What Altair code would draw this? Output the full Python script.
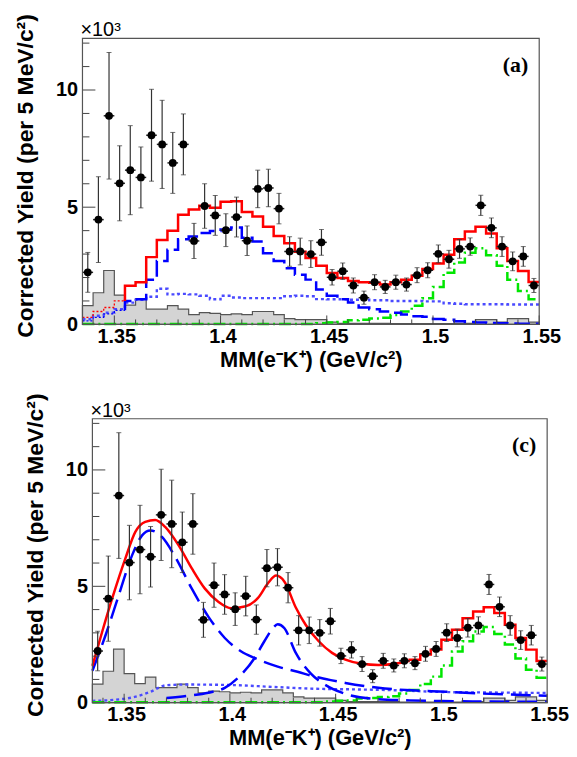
import altair as alt
import pandas as pd

# ---------------- binning (5 MeV bins) ----------------
N_BINS = 43
BIN_START = 1.335
BIN_WIDTH = 0.005
edges = [round(BIN_START + BIN_WIDTH * i, 4) for i in range(N_BINS + 1)]
centers = [round(BIN_START + BIN_WIDTH * (i + 0.5), 4) for i in range(N_BINS)]

# ---------------- data points (x10^3) ----------------
yield_vals = [2.22, 4.47, 8.9, 6.02, 6.58, 6.27, 8.07, 7.68, 6.89, 7.68,
              3.56, 5.05, 4.65, 4.02, 4.58, 3.57, 5.78, 5.82, 4.94, 3.11,
              3.11, 3.0, 3.5, 2.01, 2.27, 1.66, 1.14, 1.8, 1.6, 1.8,
              1.7, 2.1, 2.31, 3.01, 2.78, 3.22, 3.32, 5.08, 4.12, 3.32,
              2.69, 2.9, 1.66]
yield_errs = [0.85, 1.83, 2.7, 1.6, 1.9, 1.3, 1.96, 1.88, 1.3, 1.3,
              0.75, 0.95, 0.85, 0.7, 0.85, 0.63, 0.8, 0.8, 0.65, 0.63,
              0.57, 0.57, 0.55, 0.33, 0.35, 0.32, 0.28, 0.32, 0.28, 0.3,
              0.28, 0.32, 0.32, 0.38, 0.38, 0.4, 0.37, 0.43, 0.42, 0.42,
              0.4, 0.42, 0.3]

# grey hatched background histogram
grey_bkg = [0.8, 1.35, 2.3, 1.25, 0.82, 1.1, 0.65, 0.65, 0.8, 0.65,
            0.42, 0.5, 0.47, 0.42, 0.45, 0.42, 0.55, 0.55, 0.42, 0.25,
            0.2, 0.2, 0.2, 0.1, 0.05, 0.05, 0.05, 0.05, 0.05, 0.03,
            0.03, 0.03, 0.03, 0.03, 0.03, 0.05, 0.05, 0.2, 0.2, 0.1,
            0.25, 0.25, 0.1]

# ---------------- panel (a) fit histograms ----------------
red_a_low = [0.3, 0.55, 0.72, 1.0]                      # bins 0-3
red_a = [1.65, 1.8, 2.87, 3.6, 4.0, 4.68, 4.9, 5.06, 4.98, 5.23,
         5.25, 4.8, 4.6, 4.17, 3.77, 3.46, 3.1, 2.83, 2.5, 2.19,
         1.98, 1.85, 1.8, 1.78, 1.7, 1.8, 1.9, 2.08, 2.36, 2.6,
         2.97, 3.63, 3.96, 4.17, 3.88, 3.25, 2.7, 2.28, 1.81]   # bins 4-42
blue_a_low = [0.15, 0.3, 0.45, 0.6]                     # bins 0-3
blue_a = [1.0, 1.07, 1.9, 2.7, 3.18, 3.63, 3.75, 3.9, 3.98, 4.05,
          4.13, 3.7, 3.54, 3.04, 2.7, 2.4, 2.12, 1.91, 1.49, 1.22,
          1.07, 0.93, 0.72, 0.65, 0.55, 0.5, 0.42, 0.35, 0.33, 0.23,
          0.2, 0.13, 0.1, 0.08, 0.06, 0.05, 0.04, 0.03, 0.03]   # bins 4-42
dotted_a = [0.22, 0.37, 0.5, 0.65, 0.93, 1.05, 1.18, 1.52, 1.28, 1.3,
            1.28, 1.22, 1.07, 1.22, 1.15, 1.12, 1.12, 1.12, 1.12, 1.2,
            1.22, 1.2, 1.08, 1.07, 1.07, 1.05, 1.05, 1.03, 1.03, 1.0,
            1.0, 1.0, 0.98, 0.98, 0.9, 0.88, 0.86, 0.86, 0.86, 0.86,
            0.85, 0.85, 0.85]
green_hist = [0.02, 0.02, 0.02, 0.02, 0.02, 0.02, 0.02, 0.02, 0.02, 0.02,
              0.02, 0.02, 0.02, 0.02, 0.02, 0.02, 0.02, 0.02, 0.02, 0.02,
              0.02, 0.02, 0.05, 0.08, 0.1, 0.18, 0.2, 0.25, 0.28, 0.4,
              0.55, 0.8, 1.12, 1.6, 2.2, 2.64, 3.06, 3.25, 2.95, 2.5,
              1.9, 1.42, 1.07]

# ---------------- panel (c) fit curves ----------------
red_c_x = [1.335, 1.3397, 1.3444, 1.3506, 1.3553, 1.36, 1.3647, 1.3694, 1.3757,
           1.382, 1.3882, 1.3945, 1.4007, 1.407, 1.4132, 1.418, 1.4219, 1.4258,
           1.4311, 1.4358, 1.442, 1.4483, 1.4546, 1.4624, 1.4702, 1.478, 1.485]
red_c_y = [1.58, 3.07, 4.49, 6.2, 7.34, 7.77, 7.85, 7.55, 6.77,
           5.77, 4.9, 4.34, 4.06, 4.13, 4.49, 5.13, 5.46, 5.2,
           4.1, 3.35, 2.64, 2.14, 1.85, 1.67, 1.62, 1.67, 1.8]
red_c_step = [1.85, 2.07, 2.28, 2.7, 3.13, 3.63, 3.92, 4.1, 3.85, 3.35,
              2.78, 2.28, 1.79]                           # bins 30-42
broad_c_x = [1.335, 1.3413, 1.3475, 1.3538, 1.3585, 1.3624, 1.3679, 1.3741, 1.382,
             1.3898, 1.3976, 1.4054, 1.4117, 1.4226, 1.432, 1.4389, 1.4477, 1.4546,
             1.4702, 1.486, 1.502, 1.517, 1.533, 1.55]
broad_c_y = [1.37, 2.92, 4.63, 6.34, 7.19, 7.4, 7.12, 6.27, 4.9,
             3.7, 2.78, 2.2, 1.92, 1.55, 1.33, 1.15, 0.97, 0.85,
             0.64, 0.53, 0.47, 0.4, 0.35, 0.3]
narrow_c_x = [1.37, 1.38, 1.3898, 1.3976, 1.4054, 1.4117, 1.4163, 1.4203, 1.4226,
              1.4258, 1.4311, 1.4383, 1.4445, 1.4546, 1.4702, 1.485, 1.5, 1.52, 1.55]
narrow_c_y = [0.2, 0.3, 0.43, 0.64, 1.21, 1.92, 2.64, 3.2, 3.37,
              3.2, 2.15, 1.25, 0.8, 0.38, 0.15, 0.1, 0.07, 0.05, 0.04]
dot_c_x = [1.335, 1.345, 1.355, 1.362, 1.37, 1.38, 1.40, 1.42, 1.44, 1.46,
           1.48, 1.50, 1.52, 1.55]
dot_c_y = [0.08, 0.12, 0.25, 0.45, 0.75, 0.78, 0.76, 0.68, 0.6, 0.57,
           0.53, 0.46, 0.44, 0.42]

# ---------------- axis ticks ----------------
x_major = [1.35, 1.4, 1.45, 1.5, 1.55]
x_minor = [1.34, 1.36, 1.37, 1.38, 1.39, 1.41, 1.42, 1.43, 1.44, 1.46, 1.47,
           1.48, 1.49, 1.51, 1.52, 1.53, 1.54]
y_major = [0, 5, 10]
y_minor = [1, 2, 3, 4, 6, 7, 8, 9, 11, 12]

X_TITLE = "MM(e\u207bK\u207a) (GeV/c\u00b2)"
Y_TITLE = "Corrected Yield (per 5 MeV/c\u00b2)"

RED = "#ff0000"
BLUE = "#0000ff"
LBLUE = "#4a4aff"
GREEN = "#00e600"
FRAME = "#555555"


def step_df(start_bin, values, lead=None):
    xs = [edges[start_bin + k] for k in range(len(values))] + [edges[start_bin + len(values)]]
    ys = list(values) + [values[-1]]
    if lead is not None:
        xs = [edges[start_bin]] + xs
        ys = [lead] + ys
    return pd.DataFrame({"x": xs, "y": ys, "o": list(range(len(xs)))})


def build_panel(tag, x0, w, H, kind, spacer=None):
    W = x0 + w
    XS = alt.Scale(domain=[1.335, 1.55], range=[x0, W], nice=False, zero=False)
    YS = alt.Scale(domain=[0, 12.2], nice=False, zero=False)
    xax = alt.Axis(values=x_major, format=".3~f", title=X_TITLE, ticks=False,
                   domain=False, grid=False, labelFlush=False, labelPadding=2,
                   titlePadding=3, labelOffset=2, titleX=x0 + w / 2)
    yax = alt.Axis(values=y_major, format="d", title=Y_TITLE, ticks=False,
                   domain=False, grid=False, labelPadding=5, titlePadding=18,
                   offset=-x0, titleY=H / 2 - 6)

    def xe(f):
        return alt.X(f, type="quantitative", scale=XS, axis=xax)

    def ye(f):
        return alt.Y(f, type="quantitative", scale=YS, axis=yax)

    def step_line(vals, start, color, width=2.5, dash=None, lead=None):
        kw = dict(interpolate="step-after", color=color, strokeWidth=width)
        if dash is not None:
            kw["strokeDash"] = dash
        return alt.Chart(step_df(start, vals, lead)).mark_line(**kw).encode(
            x=xe("x"), y=ye("y"), order="o:Q")

    def smooth_line(xs, ys, color, width=2.5, dash=None):
        kw = dict(interpolate="monotone", color=color, strokeWidth=width)
        if dash is not None:
            kw["strokeDash"] = dash
        return alt.Chart(pd.DataFrame({"x": xs, "y": ys})).mark_line(**kw).encode(x=xe("x"), y=ye("y"))

    layers = []
    # grey background
    layers.append(alt.Chart(step_df(0, grey_bkg)).mark_area(
        interpolate="step-after", color="#d4d4d4", stroke=FRAME, strokeWidth=1.2
    ).encode(x=xe("x"), y=ye("y")))

    if kind == "a":
        layers.append(step_line(dotted_a, 0, LBLUE, 2.4, [3, 3]))
        layers.append(step_line(green_hist, 0, GREEN, 2.5, [12, 4, 2, 4]))
        layers.append(step_line(blue_a_low, 0, BLUE, 1.3, [2, 2]))
        layers.append(step_line(blue_a, 4, BLUE, 2.5, [16, 6], lead=blue_a_low[-1]))
        layers.append(step_line(red_a_low, 0, RED, 1.3, [2, 2]))
        layers.append(step_line(red_a, 4, RED, 2.5, lead=red_a_low[-1]))
    else:
        layers.append(smooth_line(dot_c_x, dot_c_y, LBLUE, 2.4, [3, 3]))
        layers.append(step_line(green_hist, 0, GREEN, 2.5, [12, 4, 2, 4]))
        layers.append(smooth_line(broad_c_x, broad_c_y, BLUE, 2.5, [20, 8]))
        layers.append(smooth_line(narrow_c_x, narrow_c_y, BLUE, 2.5, [20, 8]))
        layers.append(smooth_line(red_c_x, red_c_y, RED, 2.5))
        layers.append(step_line(red_c_step, 30, RED, 2.5, lead=red_c_y[-1]))

    pts = pd.DataFrame({
        "x": centers,
        "y": yield_vals,
        "lo": [v - e for v, e in zip(yield_vals, yield_errs)],
        "hi": [v + e for v, e in zip(yield_vals, yield_errs)],
        "xl": [c - BIN_WIDTH / 2 for c in centers],
        "xh": [c + BIN_WIDTH / 2 for c in centers],
    })
    base = alt.Chart(pts)
    layers.append(base.mark_rule(color="#333333", strokeWidth=1.2).encode(
        x=xe("x"), y=ye("lo"), y2="hi"))
    layers.append(base.mark_tick(color="#333333", orient="horizontal", size=5, thickness=1).encode(
        x=xe("x"), y=ye("hi")))
    layers.append(base.mark_tick(color="#333333", orient="horizontal", size=5, thickness=1).encode(
        x=xe("x"), y=ye("lo")))
    layers.append(base.mark_rule(color="#222222", strokeWidth=1.5).encode(
        x=xe("xl"), x2="xh", y=ye("y")))
    layers.append(base.mark_circle(color="black", size=62, opacity=1).encode(
        x=xe("x"), y=ye("y")))

    # inward ticks
    layers.append(alt.Chart(pd.DataFrame({"v": y_major})).mark_rule(color="#444", strokeWidth=1).encode(
        y=ye("v"), x=alt.value(x0), x2=alt.value(x0 + 13)))
    layers.append(alt.Chart(pd.DataFrame({"v": y_minor})).mark_rule(color="#444", strokeWidth=1).encode(
        y=ye("v"), x=alt.value(x0), x2=alt.value(x0 + 7)))
    layers.append(alt.Chart(pd.DataFrame({"v": x_major})).mark_rule(color="#444", strokeWidth=1).encode(
        x=xe("v"), y=alt.value(H), y2=alt.value(H - 9)))
    layers.append(alt.Chart(pd.DataFrame({"v": x_minor})).mark_rule(color="#444", strokeWidth=1).encode(
        x=xe("v"), y=alt.value(H), y2=alt.value(H - 5)))

    # frame of the plot area
    layers.append(alt.Chart(pd.DataFrame({"a": [0]})).mark_rect(
        filled=False, stroke=FRAME, strokeWidth=1.2).encode(
        x=alt.value(x0), x2=alt.value(W), y=alt.value(0), y2=alt.value(H)))

    # texts
    layers.append(alt.Chart(pd.DataFrame({"t": ["\u00d710\u00b3"]})).mark_text(
        align="left", baseline="alphabetic", font="Liberation Sans", fontSize=20,
        color="black").encode(text="t:N", x=alt.value(x0 - 2), y=alt.value(-2)))
    layers.append(alt.Chart(pd.DataFrame({"t": [tag]})).mark_text(
        align="right", baseline="alphabetic", font="Liberation Serif", fontSize=22,
        fontWeight="bold", color="black").encode(text="t:N", x=alt.value(W - 11), y=alt.value(34)))

    if spacer is not None:
        layers.append(alt.Chart(pd.DataFrame({"a": [0]})).mark_rule(opacity=0).encode(
            x=alt.value(-spacer), x2=alt.value(-spacer + 1), y=alt.value(H / 2)))

    return alt.layer(*layers).properties(width=W, height=H)


panel_a = build_panel("(a)", 0, 460, 288, "a", spacer=70)
panel_c = build_panel("(c)", 10, 458, 286, "c")

chart = alt.vconcat(panel_a, panel_c, spacing=95, bounds="flush").configure_axis(
    labelFont="Liberation Sans", labelFontSize=20, labelFontWeight="bold", labelColor="black",
    titleFont="Liberation Sans", titleFontSize=22, titleFontWeight="bold", titleColor="black",
).configure_axisLeft(titleFontSize=23).configure_view(stroke="transparent").properties(
    padding={"left": 4, "top": 2, "right": 0, "bottom": 0})

chart.save("out.html", embed_options={"renderer": "svg", "actions": False})
